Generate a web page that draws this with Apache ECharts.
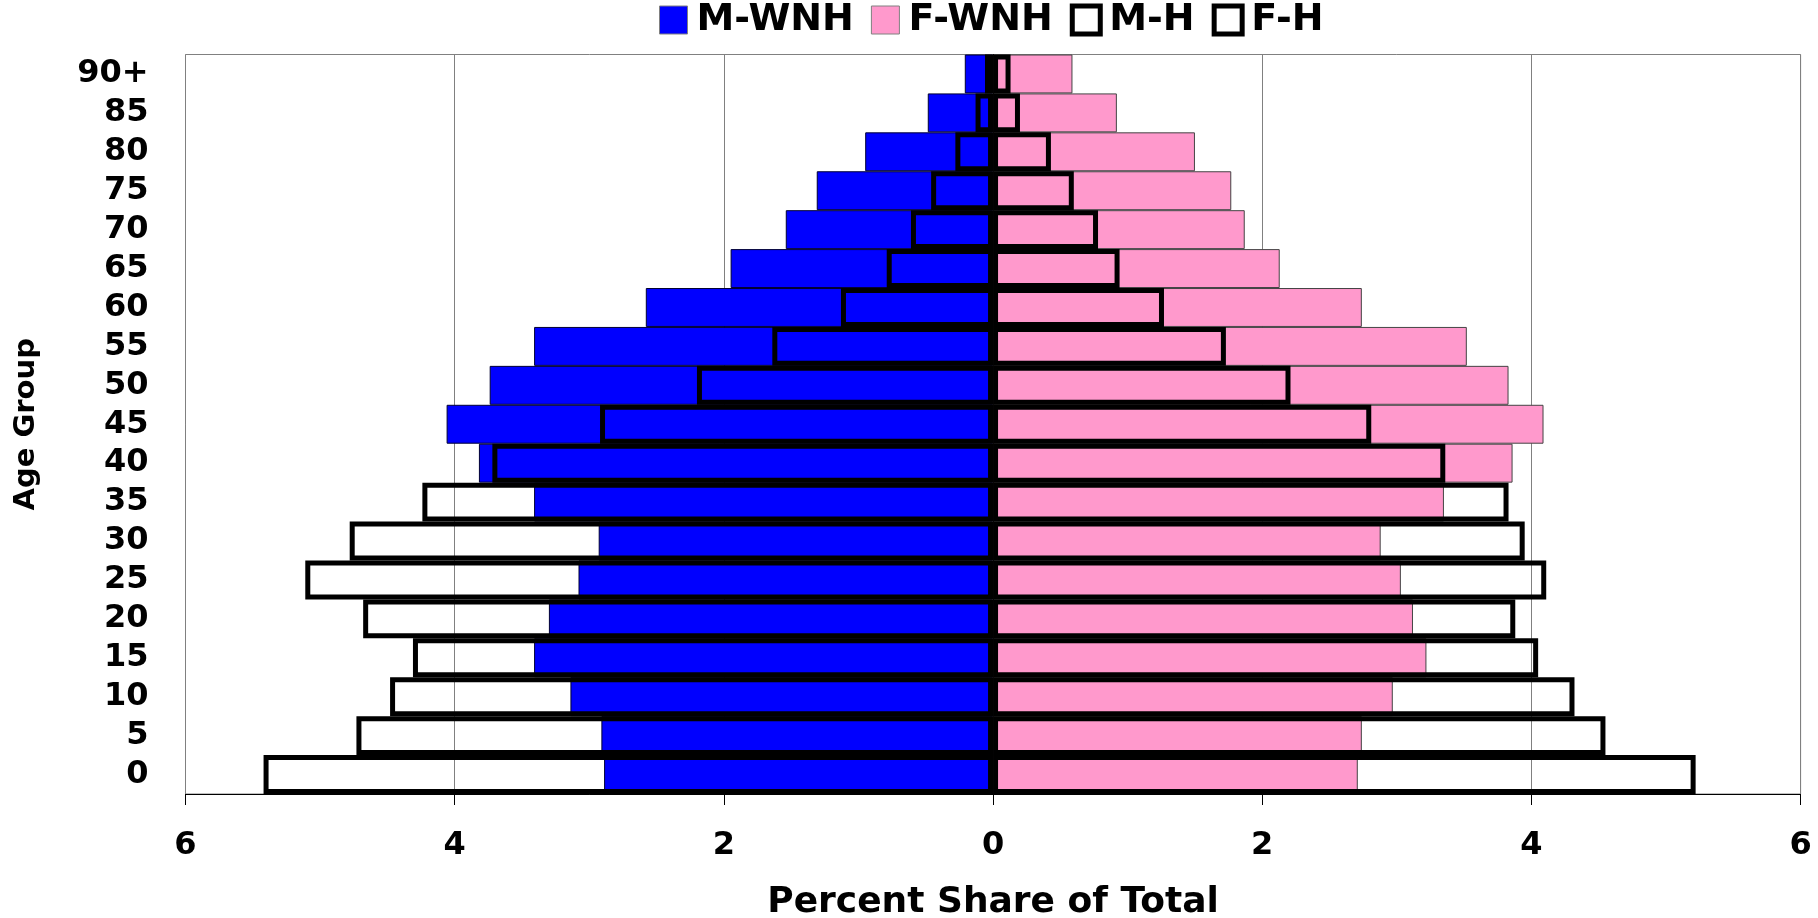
<!DOCTYPE html>
<html>
<head>
<meta charset="utf-8">
<script src="https://cdn.jsdelivr.net/npm/echarts@6/dist/echarts.min.js"></script>
<style>
html,body{margin:0;padding:0;background:#fff;}
#chart{width:1818px;height:918px;}
</style>
</head>
<body>
<div id="chart"></div>
<script>
// Age groups, bottom to top
var categories = ['0','5','10','15','20','25','30','35','40','45','50','55','60','65','70','75','80','85','90+'];
// Percent share of total (males plotted to the left)
var maleWNH   = [2.89, 2.91, 3.14, 3.41, 3.30, 3.08, 2.93, 3.41, 3.82, 4.06, 3.74, 3.41, 2.58, 1.95, 1.54, 1.31, 0.95, 0.485, 0.21];
var femaleWNH = [2.71, 2.74, 2.97, 3.22, 3.12, 3.03, 2.88, 3.35, 3.86, 4.09, 3.83, 3.52, 2.74, 2.13, 1.87, 1.77, 1.50, 0.92, 0.59];
var maleH     = [5.42, 4.73, 4.48, 4.31, 4.68, 5.11, 4.78, 4.24, 3.72, 2.92, 2.20, 1.64, 1.13, 0.79, 0.61, 0.46, 0.28, 0.13, 0.06];
var femaleH   = [5.22, 4.55, 4.32, 4.05, 3.88, 4.11, 3.95, 3.83, 3.36, 2.81, 2.21, 1.73, 1.27, 0.94, 0.78, 0.60, 0.43, 0.20, 0.13];
var seriesNames = ['M-WNH', 'F-WNH', 'M-H', 'F-H'];

var FONT = 'DejaVu Sans';
var neg = function (a) { return a.map(function (v) { return -v; }); };

var chart = echarts.init(document.getElementById('chart'));
chart.setOption({
  backgroundColor: '#ffffff',
  animation: false,
  legend: {
    left: 654, top: -4,
    itemWidth: 28, itemHeight: 28, itemGap: 17,
    textStyle: { fontFamily: FONT, fontWeight: 'bold', fontSize: 38, color: '#000', padding: [0, 0, 0, 4] },
    data: [
      { name: seriesNames[0], icon: 'rect', itemStyle: { color: '#0000ff', borderColor: '#808080', borderWidth: 1 } },
      { name: seriesNames[1], icon: 'rect', itemStyle: { color: '#ff99cc', borderColor: '#808080', borderWidth: 1 } },
      { name: seriesNames[2], icon: 'rect', itemStyle: { color: '#ffffff', borderColor: '#000', borderWidth: 5 } },
      { name: seriesNames[3], icon: 'rect', itemStyle: { color: '#ffffff', borderColor: '#000', borderWidth: 5 } }
    ]
  },
  grid: { left: 185.5, right: 17.4, top: 54.5, bottom: 124, outerBoundsMode: 'none', containLabel: false,
    show: true, borderColor: '#808080', borderWidth: 1 },
  xAxis: {
    type: 'value', min: -6, max: 6, interval: 2,
    name: 'Percent Share of Total', nameLocation: 'middle', nameGap: 91,
    nameTextStyle: { fontFamily: FONT, fontWeight: 'bold', fontSize: 36, color: '#000' },
    axisLine: { show: true, lineStyle: { color: '#000', width: 1 } },
    axisTick: { show: true, length: 11, lineStyle: { color: '#000', width: 1 } },
    axisLabel: { margin: 36, fontFamily: FONT, fontWeight: 'bold', fontSize: 32, color: '#000',
      formatter: function (v) { return Math.abs(v); } },
    splitLine: { show: true, lineStyle: { color: '#808080', width: 1 } }
  },
  yAxis: {
    type: 'category', data: categories,
    name: 'Age Group', nameLocation: 'middle', nameGap: 145,
    nameTextStyle: { fontFamily: FONT, fontWeight: 'bold', fontSize: 29, color: '#000' },
    axisLine: { show: true, lineStyle: { color: '#000', width: 1 } },
    axisTick: { show: false },
    axisLabel: { interval: 0, margin: 37, padding: [6, 0, 0, 0], fontFamily: FONT, fontWeight: 'bold', fontSize: 32, color: '#000' },
    splitLine: { show: false }
  },
  series: [
    { name: seriesNames[0], type: 'bar', data: neg(maleWNH), barGap: '-100%', barCategoryGap: '0%',
      itemStyle: { color: '#0000ff', borderColor: '#000033', borderWidth: 1 } },
    { name: seriesNames[1], type: 'bar', data: femaleWNH, barGap: '-100%', barCategoryGap: '0%',
      itemStyle: { color: '#ff99cc', borderColor: '#444', borderWidth: 1 } },
    { name: seriesNames[2], type: 'bar', data: neg(maleH), barGap: '-100%', barCategoryGap: '0%',
      itemStyle: { color: 'rgba(255,255,255,0)', borderColor: '#000', borderWidth: 5 } },
    { name: seriesNames[3], type: 'bar', data: femaleH, barGap: '-100%', barCategoryGap: '0%',
      itemStyle: { color: 'rgba(255,255,255,0)', borderColor: '#000', borderWidth: 5 } }
  ]
});
</script>
</body>
</html>
